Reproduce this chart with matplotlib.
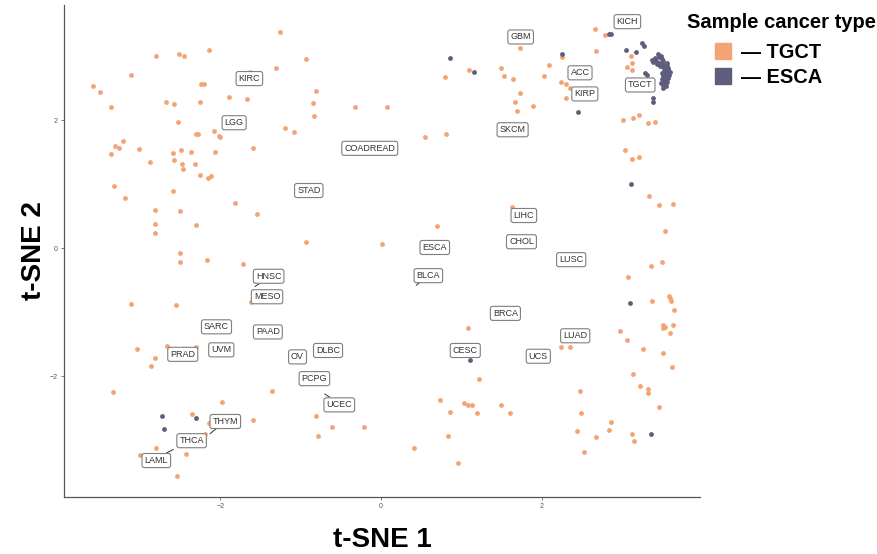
import numpy as np
import matplotlib
matplotlib.use("Agg")
import matplotlib.pyplot as plt
from matplotlib.lines import Line2D

plt.rcParams["font.family"] = ["Liberation Sans", "DejaVu Sans"]

# t-SNE coordinates
tgct_x = [-1.26, -2.80, -2.52, -2.46, -2.14, -3.12, -0.94, -1.31, -1.63, -3.59,
          -3.50, -2.24, -2.21, -0.81, -1.89, -1.67, -2.68, -2.58, -2.26, -3.36,
          -0.85, -0.32, 0.08, -0.83, -2.53, -1.19, -1.08, -2.30, -2.28, -2.08,
          -2.02, -2.00, -3.21, -3.32, -3.26, -3.02, -3.37, -1.59, -2.59, -2.49,
          -2.37, -2.07, -2.88, -2.58, -2.48, -2.32, -2.47, -2.25, -2.15, -2.12,
          -3.33, -3.19, -2.59, -1.82, -1.54, -2.81, -2.51, -2.82, -2.30, -2.81,
          -0.94, -2.50, -2.51, -2.17, -1.72, -3.12, -2.56, -1.62, -3.04, -2.67,
          -2.30, -2.81, -2.87, -3.34, -1.36, -1.98, -2.36, -2.14, -2.19, -1.59,
          -0.81, -0.61, -0.79, -2.80, -2.43, -3.00, -2.54,
          2.67, 2.79, 1.73, 2.68, 2.25, 3.11, 3.13, 3.06, 3.13, 1.10,
          0.80, 1.50, 1.53, 1.65, 2.09, 2.03, 2.24, 2.31, 2.36, 2.30,
          1.73, 1.67, 1.90, 1.70, 0.55, 0.81, 3.02, 3.14, 3.21, 3.33,
          3.42, 3.04, 3.13, 3.21, 3.34, 3.46, 3.64, 3.54, 1.63, 0.70,
          0.01, 3.50, 3.36, 3.08, 3.38, 3.59, 3.60, 3.61, 3.65, 3.51,
          3.52, 3.54, 3.64, 3.60, 2.98, 3.07, 3.26, 3.51, 3.63, 3.14,
          3.23, 3.33, 3.33, 3.47, 3.13, 3.15, 2.86, 2.84, 2.68, 2.44,
          2.53, 2.48, 2.49, 2.24, 2.35, 1.09, 1.22, 0.74, 0.86, 1.04,
          1.08, 1.14, 1.20, 1.50, 1.61, 0.83, 0.96, 0.41, -0.21]
tgct_y = [3.38, 3.00, 3.04, 3.00, 3.09, 2.71, 2.96, 2.82, 2.76, 2.53,
          2.44, 2.57, 2.56, 2.46, 2.36, 2.33, 2.28, 2.25, 2.29, 2.20,
          2.27, 2.20, 2.20, 2.06, 1.97, 1.87, 1.81, 1.78, 1.79, 1.83,
          1.75, 1.74, 1.67, 1.60, 1.57, 1.55, 1.47, 1.57, 1.48, 1.53,
          1.51, 1.50, 1.34, 1.38, 1.32, 1.32, 1.23, 1.14, 1.09, 1.12,
          0.97, 0.79, 0.89, 0.70, 0.54, 0.60, 0.58, 0.38, 0.36, 0.23,
          0.10, -0.07, -0.22, -0.19, -0.25, -0.87, -0.89, -0.84, -1.58, -1.53,
          -1.54, -1.72, -1.85, -2.25, -2.23, -2.40, -2.60, -2.74, -2.90, -2.69,
          -2.63, -2.80, -2.93, -3.13, -3.22, -3.24, -3.56,
          3.43, 3.33, 3.13, 3.08, 2.98, 3.00, 2.90, 2.83, 2.79, 2.79,
          2.68, 2.81, 2.69, 2.64, 2.86, 2.69, 2.59, 2.57, 2.51, 2.35,
          2.43, 2.28, 2.22, 2.15, 1.73, 1.78, 2.01, 2.04, 2.08, 1.95,
          1.97, 1.54, 1.40, 1.43, 0.82, 0.68, 0.69, 0.26, 0.64, 0.34,
          0.07, -0.22, -0.28, -0.45, -0.83, -0.75, -0.78, -0.83, -0.96, -1.20,
          -1.25, -1.23, -1.20, -1.33, -1.29, -1.44, -1.58, -1.64, -1.86, -1.97,
          -2.15, -2.20, -2.27, -2.48, -2.91, -3.01, -2.71, -2.84, -2.96, -2.86,
          -3.19, -2.23, -2.57, -1.55, -1.55, -1.25, -2.04, -2.38, -2.56, -2.42,
          -2.45, -2.45, -2.58, -2.45, -2.58, -2.93, -3.36, -3.12, -2.79]

esca_x = [0.86, 1.16, 2.26, 2.46, 2.84, 2.86, 3.05, 3.18, 3.25, 3.28,
          3.29, 3.32, 3.39, 3.39, 3.11, 3.10, 3.37, 1.11, -2.73, -2.70, -2.31,
          3.45, 3.49, 3.47, 3.41, 3.38, 3.43, 3.39, 3.46, 3.50, 3.52,
          3.49, 3.53, 3.56, 3.51, 3.55, 3.58, 3.53, 3.57, 3.54, 3.59,
          3.56, 3.52, 3.58, 3.55, 3.53, 3.57, 3.54, 3.51, 3.55, 3.52,
          3.49, 3.50, 3.58, 3.48, 3.44, 3.60, 3.56, 3.50]
esca_y = [2.97, 2.75, 3.03, 2.12, 3.34, 3.35, 3.09, 3.06, 3.20, 3.16,
          2.73, 2.71, 2.35, 2.28, 1.00, -0.86, -2.90, -1.75, -2.62, -2.83, -2.65,
          3.03, 3.01, 2.98, 2.97, 2.94, 2.93, 2.91, 2.90, 2.95, 2.92,
          2.88, 2.86, 2.84, 2.83, 2.80, 2.78, 2.77, 2.74, 2.72, 2.71,
          2.68, 2.69, 2.66, 2.64, 2.61, 2.60, 2.57, 2.55, 2.53, 2.51,
          2.58, 2.65, 2.82, 2.85, 2.88, 2.76, 2.90, 2.74]

# cancer type labels (box centres)
label_names = ["KIRC", "LGG", "COADREAD", "STAD", "GBM", "KICH", "ACC", "KIRP",
               "TGCT", "SKCM", "LIHC", "CHOL", "ESCA", "LUSC", "BLCA", "BRCA",
               "LUAD", "CESC", "UCS", "HNSC", "MESO", "SARC", "PAAD", "PRAD",
               "UVM", "OV", "DLBC", "PCPG", "UCEC", "THYM", "THCA", "LAML"]
label_x = [-1.64, -1.83, -0.14, -0.90, 1.74, 3.07, 2.48, 2.54,
           3.23, 1.64, 1.78, 1.75, 0.67, 2.37, 0.59, 1.55,
           2.42, 1.05, 1.96, -1.40, -1.42, -2.05, -1.41, -2.47,
           -1.99, -1.04, -0.66, -0.83, -0.52, -1.94, -2.36, -2.80]
label_y = [2.65, 1.96, 1.56, 0.90, 3.30, 3.54, 2.74, 2.41,
           2.55, 1.85, 0.51, 0.10, 0.01, -0.18, -0.43, -1.02,
           -1.37, -1.60, -1.69, -0.44, -0.76, -1.23, -1.31, -1.66,
           -1.59, -1.70, -1.60, -2.04, -2.45, -2.71, -3.01, -3.32]

# repel segments: anchor -> label edge
seg_names = ["BLCA", "HNSC", "UCEC", "THYM", "THCA"]
seg_x0 = [0.44, -1.57, -0.70, -2.13, -2.67]
seg_y0 = [-0.58, -0.60, -2.28, -2.90, -3.20]
seg_x1 = [0.49, -1.51, -0.64, -2.05, -2.59]
seg_y1 = [-0.53, -0.55, -2.33, -2.82, -3.15]

group_labels = ["— TGCT", "— ESCA"]

orange = "#F4A373"
slate = "#5E5E7C"

fig = plt.figure(figsize=(8.77, 5.54), dpi=100)
ax = fig.add_axes([64 / 877, 1 - 497 / 554, 636 / 877, 492 / 554])

ax.scatter(tgct_x, tgct_y, s=12, color=orange, linewidths=0, zorder=2)
ax.scatter(esca_x, esca_y, s=12, color=slate, linewidths=0, zorder=3)

for i in range(len(seg_names)):
    ax.plot([seg_x0[i], seg_x1[i]], [seg_y0[i], seg_y1[i]],
            color="#333333", lw=0.7, zorder=4)

for name, lx, ly in zip(label_names, label_x, label_y):
    ax.text(lx, ly, name, fontsize=6.5, color="#333333",
            ha="center", va="center", zorder=5,
            bbox=dict(boxstyle="round,pad=0.28,rounding_size=0.25",
                      fc="white", ec="#7f7f7f", lw=0.8))

ax.set_xlim(-3.95, 3.975)
ax.set_ylim(-3.89, 3.80)
ax.set_xticks([-2, 0, 2])
ax.set_yticks([-2, 0, 2])
for s in ["top", "right"]:
    ax.spines[s].set_visible(False)
for s in ["left", "bottom"]:
    ax.spines[s].set_color("#555555")
    ax.spines[s].set_linewidth(0.9)
ax.tick_params(length=2.5, width=0.6, color="#666666", labelsize=5,
               labelcolor="#555555", pad=2)

ax.set_xlabel("t-SNE 1", fontsize=20, fontweight="bold", labelpad=12)
ax.set_ylabel("t-SNE 2", fontsize=20, fontweight="bold", labelpad=2)

# legend: title on its own, keys indented below it
fig.text(687 / 877, 1 - 22 / 554, "Sample cancer type", fontsize=14.5,
         fontweight="bold", ha="left", va="center")
handles = [Line2D([], [], marker="s", ls="", markersize=11.5,
                  color=c, label=lab)
           for c, lab in zip([orange, slate], group_labels)]
leg = fig.legend(handles=handles, loc="upper left",
                 bbox_to_anchor=(714 / 877, 1 - 43 / 554),
                 frameon=False, prop={"size": 14.4, "weight": "bold"},
                 handletextpad=0.5, labelspacing=0.32, borderpad=0,
                 borderaxespad=0, handlelength=0.85)

fig.savefig("out.png", dpi=100)
